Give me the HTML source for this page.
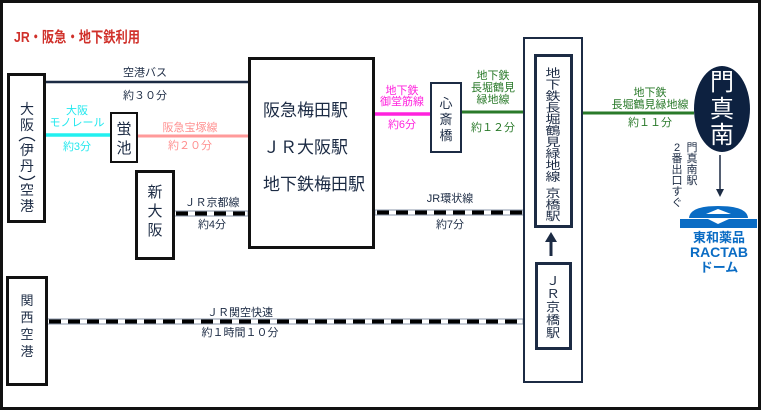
<!DOCTYPE html>
<html><head><meta charset="utf-8"><style>
html,body{margin:0;padding:0;background:#fff}
svg{display:block}
text{font-family:"Liberation Sans","Noto Sans CJK JP",sans-serif;fill:#1c2b44}
</style></head><body>
<svg width="762" height="412" viewBox="0 0 762 412" xmlns="http://www.w3.org/2000/svg">
<rect x="1.5" y="1.5" width="758" height="407" fill="#fff" stroke="#111" stroke-width="3"/>
<text x="14" y="42" font-size="15" font-weight="bold" style="fill:#d0302a" textLength="126" lengthAdjust="spacingAndGlyphs">JR・阪急・地下鉄利用</text>

<!-- lines -->
<line x1="45" y1="82" x2="248" y2="82" stroke="#1c2b44" stroke-width="2.5"/>
<line x1="45" y1="135" x2="110" y2="135" stroke="#22f0f0" stroke-width="3.5"/>
<line x1="137" y1="136" x2="248" y2="136" stroke="#ff9a9a" stroke-width="3"/>
<line x1="375" y1="114" x2="430" y2="114" stroke="#ff22dd" stroke-width="3.5"/>
<line x1="462" y1="112" x2="523" y2="112" stroke="#2a7a2a" stroke-width="3"/>
<line x1="583" y1="113" x2="694" y2="113" stroke="#2a7a2a" stroke-width="3"/>
<g>
<rect x="174" y="211" width="74" height="5" fill="#fff" stroke="#8a96a8" stroke-width="1"/>
<line x1="176" y1="213.5" x2="248" y2="213.5" stroke="#000" stroke-width="4" stroke-dasharray="12,7"/>
<rect x="375" y="210" width="148" height="5" fill="#fff" stroke="#8a96a8" stroke-width="1"/>
<line x1="377" y1="212.5" x2="523" y2="212.5" stroke="#000" stroke-width="4" stroke-dasharray="12,7"/>
<rect x="47" y="319" width="476" height="5" fill="#fff" stroke="#8a96a8" stroke-width="1"/>
<line x1="49" y1="321.5" x2="523" y2="321.5" stroke="#000" stroke-width="4" stroke-dasharray="12,7"/>
</g>

<!-- boxes -->
<rect x="8.5" y="74.5" width="36" height="147" fill="#fff" stroke="#111" stroke-width="3"/>
<rect x="111" y="113" width="26" height="49" fill="#fff" stroke="#111" stroke-width="2"/>
<rect x="136.5" y="171.5" width="37" height="87" fill="#fff" stroke="#111" stroke-width="3"/>
<rect x="249.5" y="58.5" width="124" height="189" fill="#fff" stroke="#111" stroke-width="3"/>
<rect x="431" y="83" width="30" height="69" fill="#fff" stroke="#1c2b44" stroke-width="2"/>
<rect x="524" y="38" width="58" height="344" fill="#fff" stroke="#1c2b44" stroke-width="2"/>
<rect x="535.5" y="55.5" width="36" height="171" fill="#fff" stroke="#1c2b44" stroke-width="3"/>
<rect x="536.5" y="263.5" width="34" height="85" fill="#fff" stroke="#1c2b44" stroke-width="3"/>
<rect x="7.5" y="277.5" width="39" height="107" fill="#fff" stroke="#111" stroke-width="3"/>

<!-- labels -->
<g font-size="11" text-anchor="middle">
<text x="145" y="76">空港バス</text>
<text x="145" y="99">約３０分</text>
<text x="77" y="114" style="fill:#22e8ee">大阪</text>
<text x="77" y="126" style="fill:#22e8ee">モノレール</text>
<text x="77" y="150" style="fill:#22e8ee">約3分</text>
<text x="190" y="131" style="fill:#ff8f8f">阪急宝塚線</text>
<text x="190" y="149" style="fill:#ff8f8f">約２０分</text>
<text x="212" y="206">ＪＲ京都線</text>
<text x="212" y="228">約4分</text>
<text x="402" y="94" style="fill:#ff22dd">地下鉄</text>
<text x="402" y="105" style="fill:#ff22dd">御堂筋線</text>
<text x="402" y="128" style="fill:#ff22dd">約6分</text>
<text x="493" y="79" style="fill:#2a7a2a">地下鉄</text>
<text x="493" y="91" style="fill:#2a7a2a">長堀鶴見</text>
<text x="493" y="103" style="fill:#2a7a2a">緑地線</text>
<text x="493" y="131" style="fill:#2a7a2a">約１２分</text>
<text x="450" y="202">JR環状線</text>
<text x="450" y="228">約7分</text>
<text x="650" y="96" style="fill:#2a7a2a">地下鉄</text>
<text x="650" y="108" style="fill:#2a7a2a">長堀鶴見緑地線</text>
<text x="650" y="126" style="fill:#2a7a2a">約１１分</text>
<text x="240" y="316">ＪＲ関空快速</text>
<text x="240" y="336">約１時間１０分</text>
</g>

<g font-size="17">
<text x="263" y="116">阪急梅田駅</text>
<text x="263" y="153">ＪＲ大阪駅</text>
<text x="263" y="190">地下鉄梅田駅</text>
</g>

<!-- Osaka airport vertical -->
<g font-size="14" text-anchor="middle">
<text x="27" y="114">大</text><text x="27" y="130">阪</text>
<text x="27" y="155">伊</text><text x="27" y="171">丹</text>
<text x="27" y="195">空</text><text x="27" y="211">港</text>
</g>
<path d="M19,141 Q27,134 35,141" fill="none" stroke="#1c2b44" stroke-width="1.3"/>
<path d="M19,176 Q27,183 35,176" fill="none" stroke="#1c2b44" stroke-width="1.3"/>

<g font-size="15" text-anchor="middle">
<text x="124" y="134">蛍</text><text x="124" y="153">池</text>
<text x="155" y="197">新</text><text x="155" y="216">大</text><text x="155" y="235">阪</text>
</g>
<g font-size="13" text-anchor="middle">
<text x="446" y="108">心</text><text x="446" y="124">斎</text><text x="446" y="140">橋</text>
<text x="27" y="305">関</text><text x="27" y="322">西</text><text x="27" y="339">空</text><text x="27" y="356">港</text>
</g>
<g font-size="15" text-anchor="middle">
<text transform="translate(553,77) scale(1,0.75)">地</text>
<text transform="translate(553,88.5) scale(1,0.75)">下</text>
<text transform="translate(553,100) scale(1,0.75)">鉄</text>
<text transform="translate(553,111.5) scale(1,0.75)">長</text>
<text transform="translate(553,123) scale(1,0.75)">堀</text>
<text transform="translate(553,134.5) scale(1,0.75)">鶴</text>
<text transform="translate(553,146) scale(1,0.75)">見</text>
<text transform="translate(553,157.5) scale(1,0.75)">緑</text>
<text transform="translate(553,169) scale(1,0.75)">地</text>
<text transform="translate(553,180.5) scale(1,0.75)">線</text>
<text transform="translate(553,197) scale(1,0.75)">京</text>
<text transform="translate(553,208.5) scale(1,0.75)">橋</text>
<text transform="translate(553,220) scale(1,0.75)">駅</text>
</g>
<g font-size="14" text-anchor="middle">
<text transform="translate(553,285) scale(1,0.85)">Ｊ</text>
<text transform="translate(553,298) scale(1,0.85)">Ｒ</text>
<text transform="translate(553,311) scale(1,0.85)">京</text>
<text transform="translate(553,324) scale(1,0.85)">橋</text>
<text transform="translate(553,337) scale(1,0.85)">駅</text>
</g>
<line x1="551" y1="256" x2="551" y2="240" stroke="#1c2b44" stroke-width="3"/>
<polygon points="545,242 557,242 551,232" fill="#1c2b44"/>

<ellipse cx="722" cy="109" rx="28" ry="43" fill="#0d2140"/>
<g font-size="24" text-anchor="middle">
<text x="722" y="90" style="fill:#fff">門</text>
<text x="722" y="117" style="fill:#fff">真</text>
<text x="722" y="143" style="fill:#fff">南</text>
</g>
<g font-size="11" text-anchor="middle">
<text x="692" y="151">門</text><text x="692" y="162">真</text><text x="692" y="173">南</text><text x="692" y="184">駅</text>
<text x="677" y="151">2</text><text x="677" y="162">番</text><text x="677" y="173">出</text><text x="677" y="184">口</text><text x="677" y="195">す</text><text x="677" y="206">ぐ</text>
</g>
<line x1="720" y1="155" x2="720" y2="190" stroke="#1c2b44" stroke-width="1.5"/>
<polygon points="716,189 724,189 720,197" fill="#1c2b44"/>

<path d="M689,218 Q690,206 718,206 Q747,206 748,218 Z" fill="#0a6cc4"/>
<polygon points="706,214 731,214 718,209" fill="#fff"/>
<rect x="680" y="219" width="77" height="9" fill="#0a6cc4"/>
<polygon points="708,219 729,219 718,224" fill="#fff"/>
<g text-anchor="middle" font-weight="bold">
<text x="719" y="242" font-size="13" style="fill:#0a6cc4">東和薬品</text>
<text x="719" y="257" font-size="14" style="fill:#0a6cc4">RACTAB</text>
<text x="719" y="272" font-size="13" style="fill:#0a6cc4">ドーム</text>
</g>
</svg>
</body></html>
